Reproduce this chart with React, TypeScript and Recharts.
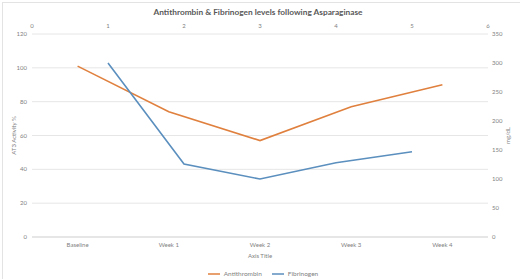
import React from 'react';
import { ComposedChart, Line, XAxis, YAxis, CartesianGrid, Legend } from 'recharts';

const weeks = ['Baseline', 'Week 1', 'Week 2', 'Week 3', 'Week 4'];
const antithrombin = [101, 74, 57, 77, 90];
const fibrinogenX = [1, 2, 3, 4, 5];
const fibrinogen = [300, 126, 100, 128, 147];
const leftTicks = [0, 20, 40, 60, 80, 100, 120];
const rightTicks = [0, 50, 100, 150, 200, 250, 300, 350];
const topTicks = [0, 1, 2, 3, 4, 5, 6];

const atData = weeks.map((w, i) => ({ week: w, at: antithrombin[i] }));
const fibData = fibrinogenX.map((x, i) => ({ x, fib: fibrinogen[i] }));

const ORANGE = '#E0803E';
const BLUE = '#5B8FBE';
const TXT = '#7f7f7f';

export default function App() {
  return (
    <div style={{ position: 'absolute', left: 0, top: 0, width: 520, height: 279, background: '#fff', fontFamily: 'Lato, sans-serif' }}>
      <div style={{ position: 'absolute', left: 2, top: 2, width: 540, height: 290, border: '1px solid #e3e3e3', boxSizing: 'border-box' }} />
      <div style={{ position: 'absolute', left: 0, top: 7, width: 516, textAlign: 'center', fontSize: 8.3, fontWeight: 700, color: '#595959' }}>
        Antithrombin &amp; Fibrinogen levels following Asparaginase
      </div>
      <ComposedChart
        width={520}
        height={279}
        data={atData}
        margin={{ top: 14, right: 8, bottom: 8, left: 8 }}
        style={{ position: 'absolute', left: 0, top: 0, fontFamily: 'Lato, sans-serif' }}
      >
        <CartesianGrid xAxisId="bottom" yAxisId="left" vertical={false} stroke="#e6e6e6" strokeWidth={1} />
        <XAxis
          xAxisId="bottom"
          dataKey="week"
          type="category"
          orientation="bottom"
          height={26}
          padding={{ left: 45.6, right: 45.6 }}
          tick={{ fontSize: 6, fill: TXT, dy: -2 }}
          tickLine={false}
          axisLine={{ stroke: '#d9d9d9' }}
          interval={0}
          label={{ value: 'Axis Title', position: 'insideBottom', offset: 5, fontSize: 6, fill: TXT }}
        />
        <XAxis
          xAxisId="top"
          dataKey="x"
          type="number"
          orientation="top"
          domain={[0, 6]}
          ticks={topTicks}
          height={20}
          tick={{ fontSize: 6, fill: TXT, dy: 2 }}
          tickLine={false}
          axisLine={false}
        />
        <YAxis
          yAxisId="left"
          domain={[0, 120]}
          ticks={leftTicks}
          width={24}
          tick={{ fontSize: 6, fill: TXT, dx: 3 }}
          tickLine={false}
          axisLine={false}
          label={{ value: 'AT3 Activity %', angle: -90, position: 'center', dx: -6, fontSize: 6, fill: TXT }}
        />
        <YAxis
          yAxisId="right"
          orientation="right"
          domain={[0, 350]}
          ticks={rightTicks}
          width={24}
          tick={{ fontSize: 6, fill: TXT, dx: -4 }}
          tickLine={false}
          axisLine={false}
          label={{ value: 'mg/dL', angle: -90, position: 'center', dx: 8, fontSize: 6, fill: TXT }}
        />
        <Legend
          verticalAlign="bottom"
          height={8}
          iconSize={12}
          wrapperStyle={{ fontSize: 6.5, color: TXT, bottom: 3, left: 16 }}
          formatter={(v: string) => <span style={{ color: TXT }}>{v}</span>}
        />
        <Line
          xAxisId="bottom"
          yAxisId="left"
          dataKey="at"
          name="Antithrombin"
          stroke={ORANGE}
          strokeWidth={1.6}
          dot={false}
          legendType="plainline"
          isAnimationActive={false}
        />
        <Line
          xAxisId="top"
          yAxisId="right"
          data={fibData}
          dataKey="fib"
          name="Fibrinogen"
          stroke={BLUE}
          strokeWidth={1.6}
          dot={false}
          legendType="plainline"
          isAnimationActive={false}
        />
      </ComposedChart>
    </div>
  );
}
